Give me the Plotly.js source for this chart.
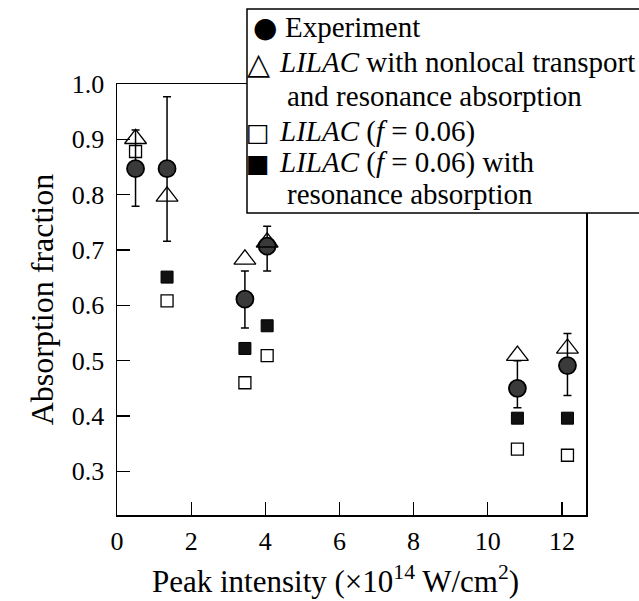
<!DOCTYPE html>
<html>
<head>
<meta charset="utf-8">
<script src="https://cdn.plot.ly/plotly-3.0.1.min.js"></script>
<style>html,body{margin:0;padding:0;background:#fff;}#chart{width:639px;height:601px;}</style>
</head>
<body>
<div id="chart"></div>
<script>
// ---- data ----
const expX = [0.5, 1.35, 3.45, 4.05, 10.8, 12.15];
const expY = [0.847, 0.847, 0.611, 0.707, 0.45, 0.491];
const expErrUp = [0.07, 0.13, 0.051, 0.036, 0.05, 0.058];
const expErrDown = [0.068, 0.131, 0.052, 0.045, 0.035, 0.054];

const nonlocalX = [0.5, 1.35, 3.45, 4.05, 10.8, 12.15];
const nonlocalY = [0.901, 0.797, 0.683, 0.714, 0.509, 0.522];

const f006X = [0.5, 1.35, 3.45, 4.05, 10.8, 12.15];
const f006Y = [0.878, 0.608, 0.46, 0.509, 0.34, 0.329];

const f006ResX = [1.35, 3.45, 4.05, 10.8, 12.15];
const f006ResY = [0.651, 0.522, 0.563, 0.396, 0.396];

const xTicks = [0, 2, 4, 6, 8, 10, 12];
const yTicks = [0.3, 0.4, 0.5, 0.6, 0.7, 0.8, 0.9, 1.0];

const xTitle = 'Peak intensity (×10<sup>14</sup> W/cm<sup>2</sup>)';
const yTitle = 'Absorption fraction';

const legendSymbols = ['●', '△', '', '□', '■', ''];
const legendLines = [
  'Experiment',
  '<i>LILAC</i> with nonlocal transport',
  'and resonance absorption',
  '<i>LILAC</i> (<i>f</i> = 0.06)',
  '<i>LILAC</i> (<i>f</i> = 0.06) with',
  'resonance absorption'
];

// ---- geometry helpers ----
const W = 639, H = 601;
const L = 117, R = 586, T = 84, B = 515;
const px = v => (v - L) / (R - L);
const py = v => (B - v) / (B - T);
const serif = 'Liberation Serif, Times New Roman, serif';

const traces = [
  {x: f006X, y: f006Y, mode: 'markers', type: 'scatter', name: 'LILAC (f = 0.06)',
   marker: {symbol: 'square-open', size: 12, color: '#000', line: {width: 1.3, color: '#000'}}},
  {x: f006ResX, y: f006ResY, mode: 'markers', type: 'scatter', name: 'LILAC (f = 0.06) with resonance absorption',
   marker: {symbol: 'square', size: 12, color: '#111', line: {width: 1, color: '#000'}}},
  {x: expX, y: expY, mode: 'markers', type: 'scatter', name: 'Experiment',
   marker: {symbol: 'circle', size: 17, color: '#3a3a3a', line: {width: 1.8, color: '#000'}},
   error_y: {type: 'data', symmetric: false, array: expErrUp, arrayminus: expErrDown,
             color: '#000', thickness: 1.5, width: 4}},
  {x: nonlocalX, y: nonlocalY, mode: 'markers', type: 'scatter', name: 'LILAC with nonlocal transport and resonance absorption',
   marker: {symbol: 'triangle-up-open', size: 19, color: '#000', line: {width: 1.3, color: '#000'}}}
];

const lineY = [27, 62, 96, 131, 162, 194];
const symSize = [28, 30, 0, 25, 25, 0];
const symX = [265, 258, 0, 258, 258, 0];
const annotations = [];
legendLines.forEach((t, i) => {
  const indent = (i === 2 || i === 5);
  annotations.push({xref: 'paper', yref: 'paper', x: px(indent ? 285 : (i === 0 ? 283 : 277)), y: py(lineY[i]),
    xanchor: 'left', yanchor: 'middle', showarrow: false, text: t,
    font: {family: serif, size: 29, color: '#000'}});
  if (legendSymbols[i]) {
    annotations.push({xref: 'paper', yref: 'paper', x: px(symX[i]), y: py(lineY[i] + 1),
      xanchor: 'center', yanchor: 'middle', showarrow: false, text: legendSymbols[i],
      font: {family: 'DejaVu Sans', size: symSize[i], color: '#000'}});
  }
});
annotations.push({xref: 'paper', yref: 'paper', x: px(335), y: py(579), xanchor: 'center', yanchor: 'middle',
  showarrow: false, text: xTitle, font: {family: serif, size: 31, color: '#000'}});

const layout = {
  width: W, height: H,
  margin: {l: L, r: W - R, t: T, b: H - B, pad: 0},
  paper_bgcolor: '#fff', plot_bgcolor: '#fff',
  showlegend: false,
  font: {family: serif, size: 26, color: '#000'},
  xaxis: {range: [0, 12.65], tickvals: xTicks, ticktext: xTicks.map(String),
          ticks: 'inside', ticklen: 13, tickwidth: 1.3, tickcolor: '#000',
          showline: true, linecolor: '#000', linewidth: 1.5, mirror: true,
          showgrid: false, zeroline: false, ticklabelstandoff: 2,
          tickfont: {family: serif, size: 26, color: '#000'}},
  yaxis: {range: [0.221, 1.0], tickvals: yTicks, ticktext: yTicks.map(v => v.toFixed(1)),
          ticks: 'inside', ticklen: 13, tickwidth: 1.3, tickcolor: '#000',
          showline: true, linecolor: '#000', linewidth: 1.5, mirror: true,
          showgrid: false, zeroline: false, ticklabelstandoff: 6,
          tickfont: {family: serif, size: 26, color: '#000'},
          title: {text: yTitle, font: {family: serif, size: 32, color: '#000'}, standoff: 8}},
  shapes: [{type: 'rect', xref: 'paper', yref: 'paper', x0: px(247), x1: px(700), y0: py(213), y1: py(9),
            fillcolor: '#fff', line: {color: '#000', width: 1.5}, layer: 'above'}],
  annotations: annotations
};

Plotly.newPlot('chart', traces, layout, {displayModeBar: false, staticPlot: true});
</script>
</body>
</html>
